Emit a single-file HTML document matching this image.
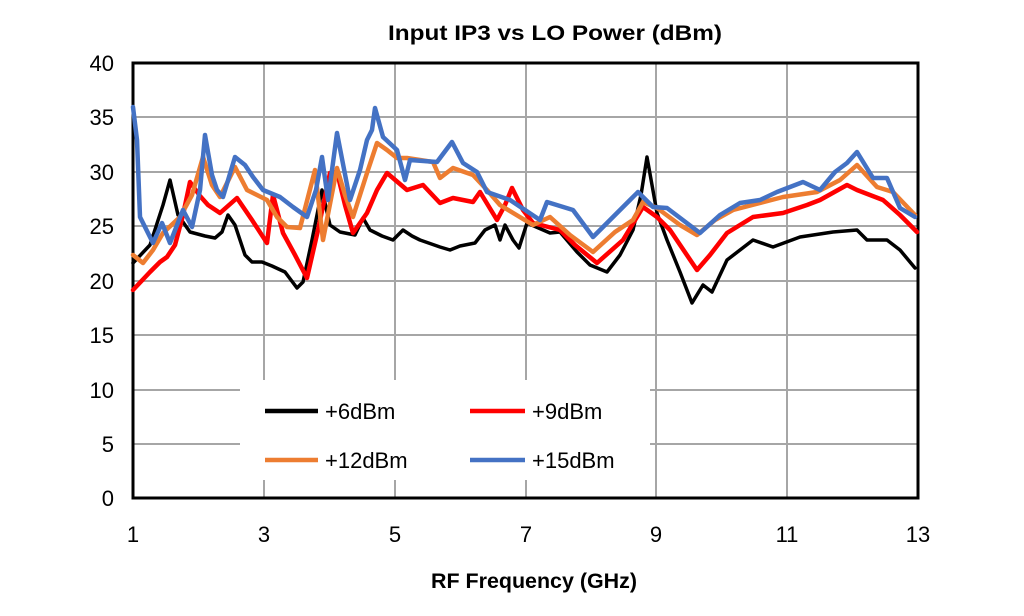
<!DOCTYPE html>
<html><head><style>body{margin:0;background:#fff}svg{display:block}</style></head><body>
<svg width="1024" height="616" xmlns="http://www.w3.org/2000/svg" font-family="Liberation Sans, sans-serif">
<rect width="1024" height="616" fill="#fff"/>
<text x="388" y="40" font-size="21" font-weight="bold" textLength="334" lengthAdjust="spacingAndGlyphs">Input IP3 vs LO Power (dBm)</text>
<g stroke="#a6a6a6" stroke-width="2">
<line x1="133" y1="117" x2="918" y2="117"/><line x1="133" y1="172" x2="918" y2="172"/><line x1="133" y1="226" x2="918" y2="226"/><line x1="133" y1="281" x2="918" y2="281"/><line x1="133" y1="335" x2="918" y2="335"/><line x1="133" y1="390" x2="918" y2="390"/><line x1="133" y1="444" x2="918" y2="444"/>
<line x1="264" y1="63" x2="264" y2="498"/><line x1="395" y1="63" x2="395" y2="498"/><line x1="526" y1="63" x2="526" y2="498"/><line x1="656" y1="63" x2="656" y2="498"/><line x1="787" y1="63" x2="787" y2="498"/>
</g>
<rect x="133" y="63" width="785" height="435" fill="none" stroke="#000" stroke-width="3"/>
<g font-size="22" text-anchor="end">
<text x="114" y="71">40</text><text x="114" y="125">35</text><text x="114" y="180">30</text><text x="114" y="234">25</text><text x="114" y="289">20</text><text x="114" y="343">15</text><text x="114" y="398">10</text><text x="114" y="452">5</text><text x="114" y="506">0</text>
</g>
<g font-size="22" text-anchor="middle">
<text x="133" y="542">1</text><text x="264" y="542">3</text><text x="395" y="542">5</text><text x="526" y="542">7</text><text x="656" y="542">9</text><text x="787" y="542">11</text><text x="918" y="542">13</text>
</g>
<text x="431" y="588" font-size="21" font-weight="bold" textLength="206" lengthAdjust="spacingAndGlyphs">RF Frequency  (GHz)</text>
<g fill="none" stroke-linejoin="round" stroke-linecap="round">
<polyline stroke="#000" stroke-width="3.5" points="133,263 150,245 163,205 170,180 178,215 190,232 205,236 215,238 222,232 228,215 235,225 240,240 245,255 252,262 262,262 272,266 285,272 297,288 303,282 312,240 322,190 330,225 340,232 355,235 363,218 370,230 382,236 393,240 403,230 412,236 420,240 440,247 450,250 460,246 475,243 485,230 495,225 500,240 505,225 513,240 519,248 527,223 550,233 560,232 577,252 590,265 607,272 620,255 633,230 641,195 647,157 652,185 657,213 667,240 680,272 692,303 703,285 712,292 727,260 753,240 773,247 800,237 833,232 857,230 867,240 887,240 900,250 915,268"/>
<polyline stroke="#ff0000" stroke-width="4.5" points="133,290 150,272 160,262 167,257 175,245 183,215 190,182 200,196 208,205 220,213 237,198 252,220 267,243 273,195 283,233 295,255 307,278 318,230 330,173 337,172 345,205 353,233 367,213 377,190 387,173 407,190 423,185 440,203 453,198 473,202 480,192 497,220 505,205 512,188 523,210 533,223 560,230 575,245 597,263 623,240 643,207 657,217 670,230 697,270 710,255 727,233 753,217 783,213 807,205 820,200 847,185 857,190 883,200 900,215 917,232"/>
<polyline stroke="#ed7d31" stroke-width="4.5" points="133,255 143,263 153,250 163,233 180,217 192,195 203,157 212,185 220,197 227,183 235,167 247,190 267,200 277,217 287,227 300,228 315,170 323,240 337,168 345,195 353,217 367,173 377,143 387,150 397,158 407,158 433,162 440,178 453,168 473,175 487,190 500,205 533,225 550,217 570,235 593,252 615,232 633,220 643,202 657,208 680,225 697,235 715,220 733,210 783,197 817,192 840,180 857,165 877,187 893,192 915,215"/>
<polyline stroke="#4472c4" stroke-width="4.5" points="133,107 137,140 140,217 153,243 162,223 170,243 183,210 192,227 200,190 205,135 212,175 217,190 223,197 235,157 245,165 253,177 263,190 280,197 293,207 307,217 316,190 322,157 328,200 337,133 350,200 360,170 367,140 372,130 375,108 383,137 397,150 405,180 410,160 437,162 452,142 463,163 477,172 487,192 510,200 525,210 540,220 547,202 573,210 593,237 620,210 630,200 638,192 653,207 667,208 700,233 720,215 740,203 760,200 777,192 803,182 820,190 835,172 847,163 857,152 873,178 887,178 900,208 915,217"/>
</g>
<rect x="240" y="380" width="410" height="100" fill="#fff"/>
<g stroke-width="4.5">
<line x1="265" y1="411" x2="318" y2="411" stroke="#000"/>
<line x1="470" y1="411" x2="525" y2="411" stroke="#ff0000"/>
<line x1="265" y1="460" x2="318" y2="460" stroke="#ed7d31"/>
<line x1="470" y1="460" x2="525" y2="460" stroke="#4472c4"/>
</g>
<g font-size="22">
<text x="325" y="419">+6dBm</text><text x="532" y="419">+9dBm</text>
<text x="325" y="468">+12dBm</text><text x="532" y="468">+15dBm</text>
</g>
</svg>
</body></html>
